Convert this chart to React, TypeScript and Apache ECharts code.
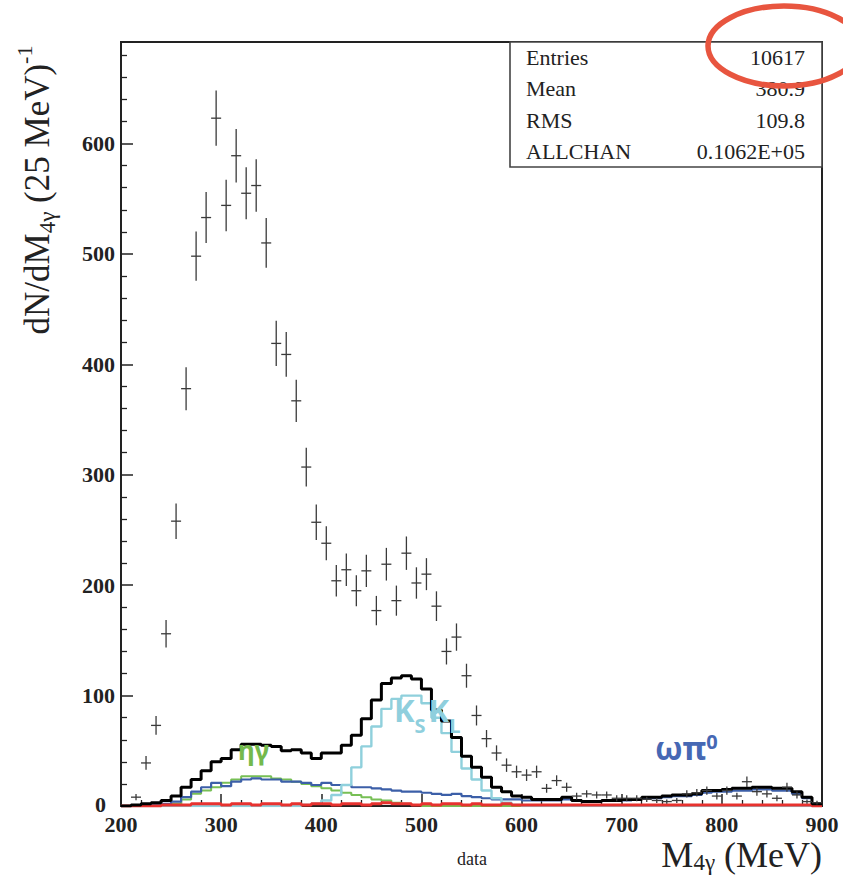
import React, { useEffect, useRef } from "react";
import * as echarts from "echarts";

// ---- binning (MeV) ----
const X_MIN = 200;
const X_MAX = 900;
const BIN_WIDTH = 10;
const DATA_FIRST_CENTER = 215;

// ---- data: counts per 10 MeV bin, bins 210-220 ... 890-900 ----
const dataCounts = [
  8, 39, 73, 156, 258, 378, 498, 533, 623, 544,
  589, 555, 562, 510, 419, 409, 367, 307, 257, 238,
  204, 214, 195, 213, 177, 219, 186, 229, 202, 210,
  181, 140, 153, 118, 82, 61, 48, 37, 31, 28,
  31, 16, 23, 17, 9, 11, 10, 10, 7, 7,
  7, 6, 5, 4, 5, 11, 12, 14, 9, 14,
  9, 22, 13, 11, 7, 17, 10, 4, 3,
];

// ---- MC histograms, bins 200-210 ... 890-900 ----
const mcTotal = [
  0, 1, 2, 3, 5, 9, 17, 24, 32, 40,
  43, 51, 56, 56, 55, 54, 50, 51, 48, 43,
  48, 48, 55, 64, 79, 96, 111, 116, 118, 115,
  106, 87, 77, 62, 45, 35, 26, 17, 13, 9,
  8, 6, 6, 6, 8, 5, 4, 4, 5, 5,
  6, 6, 8, 8, 9, 10, 10, 11, 14, 14,
  15, 16, 16, 17, 17, 16, 16, 13, 8, 2,
];
const mcKsKl = [
  0, 0, 0, 0, 0, 0, 0, 0, 0, 0,
  0, 0, 0, 0, 0, 0, 0, 0, 1, 2,
  5, 10, 19, 35, 54, 72, 88, 97, 100, 100,
  93, 80, 66, 49, 34, 24, 14, 7, 3, 1,
  0, 0, 0, 0, 0, 0, 0, 0, 0, 0,
  0, 0, 0, 0, 0, 0, 0, 0, 0, 0,
  0, 0, 0, 0, 0, 0, 0, 0, 0, 0,
];
const mcEtaGamma = [
  0, 0, 0, 0, 1, 2, 6, 11, 14, 17,
  21, 24, 27, 27, 27, 25, 24, 22, 20, 18,
  16, 14, 12, 10, 8, 6, 5, 3, 2, 1,
  0, 0, 0, 0, 0, 0, 0, 0, 0, 0,
  0, 0, 0, 0, 0, 0, 0, 0, 0, 0,
  0, 0, 0, 0, 0, 0, 0, 0, 0, 0,
  0, 0, 0, 0, 0, 0, 0, 0, 0, 0,
];
const mcOmegaPi0 = [
  0, 0, 1, 1, 2, 4, 8, 13, 17, 21,
  18, 22, 24, 25, 24, 24, 22, 22, 21, 19,
  21, 19, 19, 17, 17, 16, 15, 14, 13, 13,
  12, 11, 10, 11, 9, 8, 7, 6, 6, 6,
  5, 5, 5, 5, 6, 5, 4, 4, 5, 5,
  5, 6, 7, 7, 8, 9, 9, 10, 12, 13,
  13, 14, 14, 15, 15, 14, 14, 11, 7, 2,
];
const mcOther = [
  0, 0, 0, 0, 1, 1, 1, 2, 2, 2,
  1, 2, 2, 1, 2, 2, 1, 2, 1, 2,
  2, 1, 2, 2, 1, 2, 3, 2, 2, 1,
  2, 1, 2, 2, 1, 2, 1, 1, 2, 1,
  1, 1, 1, 1, 1, 1, 1, 1, 1, 1,
  1, 1, 1, 1, 1, 1, 1, 1, 1, 1,
  1, 1, 1, 1, 1, 1, 1, 1, 1, 0,
];

// ---- stats box ----
const statLabels = ["Entries", "Mean", "RMS", "ALLCHAN"];
const statValues = ["10617", "380.9", "109.8", "0.1062E+05"];

const SERIF = '"Liberation Serif", "Times New Roman", serif';
const SANS = '"Noto Sans", "Open Sans", sans-serif';

function histSeries(name: string, values: number[], color: string, width: number, z: number) {
  const pts: number[][] = values.map((v, i) => [X_MIN + i * BIN_WIDTH, v]);
  pts.push([X_MAX, values[values.length - 1]]);
  return {
    type: "line",
    name,
    step: "end",
    data: pts,
    symbol: "none",
    showSymbol: false,
    silent: true,
    lineStyle: { color, width },
    itemStyle: { color },
    z,
  };
}

export default function App() {
  const ref = useRef<HTMLDivElement>(null);

  useEffect(() => {
    if (!ref.current) return;
    const chart = echarts.init(ref.current, undefined, { renderer: "svg" });

    const statRowY = [57, 88, 120, 151];
    const statGraphics: any[] = [];
    statLabels.forEach((lab, i) => {
      statGraphics.push({
        type: "text",
        x: 526,
        y: statRowY[i],
        z: 101,
        style: { text: lab, font: `22px ${SERIF}`, fill: "#222", align: "left", verticalAlign: "middle" },
      });
      statGraphics.push({
        type: "text",
        x: 805,
        y: statRowY[i],
        z: 101,
        style: { text: statValues[i], font: `22px ${SERIF}`, fill: "#222", align: "right", verticalAlign: "middle" },
      });
    });

    const option: any = {
      animation: false,
      backgroundColor: "#fff",
      grid: {
        left: 121,
        right: 21,
        top: 42,
        bottom: 70,
        show: true,
        borderColor: "#222",
        borderWidth: 2,
        containLabel: false,
      },
      xAxis: {
        type: "value",
        min: X_MIN,
        max: X_MAX,
        interval: 100,
        axisLine: { show: true, lineStyle: { color: "#222", width: 2 } },
        axisTick: { show: true, inside: true, length: 12, lineStyle: { color: "#222", width: 1.5 } },
        minorTick: { show: true, splitNumber: 5, length: 6, lineStyle: { color: "#222", width: 1.3 } },
        splitLine: { show: false },
        axisLabel: {
          margin: 9,
          fontFamily: SERIF,
          fontWeight: "bold",
          fontSize: 22,
          lineHeight: 19,
          color: "#222",
        },
      },
      yAxis: {
        type: "value",
        min: 0,
        max: 692,
        interval: 100,
        axisLine: { show: true, lineStyle: { color: "#222", width: 2 } },
        axisTick: { show: true, inside: true, length: 12, lineStyle: { color: "#222", width: 1.5 } },
        minorTick: { show: true, splitNumber: 5, length: 6, lineStyle: { color: "#222", width: 1.3 } },
        splitLine: { show: false },
        axisLabel: {
          margin: 6,
          showMaxLabel: false,
          fontFamily: SERIF,
          fontWeight: "bold",
          fontSize: 22,
          lineHeight: 17,
          color: "#222",
          formatter: (v: number) => (v === 0 ? "{z|0}" : String(v)),
          rich: {
            z: {
              fontFamily: SERIF,
              fontWeight: "bold",
              fontSize: 22,
              lineHeight: 17,
              color: "#222",
              padding: [0, 9, 4, 0],
            },
          },
        },
      },
      series: [
        histSeries("ηγ", mcEtaGamma, "#77bf55", 2, 2),
        histSeries("ωπ0", mcOmegaPi0, "#3c5fa8", 2.2, 3),
        histSeries("KsKl", mcKsKl, "#8fd0dc", 2.4, 4),
        histSeries("other", mcOther, "#e8322f", 3, 5),
        histSeries("total", mcTotal, "#000000", 3, 6),
        {
          type: "custom",
          name: "data",
          data: dataCounts.map((v, i) => [DATA_FIRST_CENTER + i * BIN_WIDTH, v]),
          encode: { x: 0, y: 1 },
          z: 10,
          silent: true,
          renderItem: (params: any, api: any) => {
            const x = api.value(0);
            const v = api.value(1);
            const err = Math.sqrt(v);
            const top = api.coord([x, v + err]);
            const bot = api.coord([x, Math.max(0, v - err)]);
            const l = api.coord([x - BIN_WIDTH / 2, v]);
            const r = api.coord([x + BIN_WIDTH / 2, v]);
            const style = { stroke: "#3a3a3a", lineWidth: 1.3 };
            return {
              type: "group",
              children: [
                { type: "line", shape: { x1: top[0], y1: top[1], x2: bot[0], y2: bot[1] }, style },
                { type: "line", shape: { x1: l[0], y1: l[1], x2: r[0], y2: r[1] }, style },
              ],
            };
          },
        },
      ],
      graphic: [
        // stats box
        {
          type: "rect",
          z: 100,
          shape: { x: 510, y: 42, width: 312, height: 125 },
          style: { fill: "#fff", stroke: "#444", lineWidth: 1.6 },
        },
        ...statGraphics,
        // red highlight ellipse
        {
          type: "ellipse",
          z: 110,
          shape: { cx: 784, cy: 46, rx: 76, ry: 40 },
          style: { fill: "none", stroke: "#e8553f", lineWidth: 5.5 },
        },
        // y axis title
        {
          type: "text",
          x: 31,
          y: 190,
          rotation: Math.PI / 2,
          z: 50,
          style: {
            text: "{m|dN/dM}{s|4γ}{m| (25 MeV)}{p|-1}",
            align: "center",
            verticalAlign: "middle",
            rich: {
              m: { fontFamily: SERIF, fontSize: 35, lineHeight: 35, fill: "#222", verticalAlign: "top", padding: [6, 0, 0, 0] },
              s: { fontFamily: SERIF, fontSize: 23, lineHeight: 23, fill: "#222", verticalAlign: "top", padding: [22, 0, 0, 0] },
              p: { fontFamily: SERIF, fontSize: 22, lineHeight: 22, fill: "#222", verticalAlign: "top", padding: [0, 0, 0, 0] },
            },
          },
        },
        // x axis title
        {
          type: "text",
          x: 822,
          y: 837,
          z: 50,
          style: {
            text: "{m|M}{s|4γ}{m| (MeV)}",
            align: "right",
            verticalAlign: "top",
            rich: {
              m: { fontFamily: SERIF, fontSize: 36, lineHeight: 26, fill: "#222", verticalAlign: "top", padding: [0, 0, 0, 0] },
              s: { fontFamily: SERIF, fontSize: 23, lineHeight: 18, fill: "#222", verticalAlign: "top", padding: [14, 0, 0, 0] },
            },
          },
        },
        // "data" caption
        {
          type: "text",
          x: 472,
          y: 859,
          z: 50,
          style: { text: "data", font: `18px ${SERIF}`, fill: "#222", align: "center", verticalAlign: "middle" },
        },
        // component labels
        {
          type: "text",
          x: 238,
          y: 750,
          z: 50,
          style: { text: "ηγ", font: `bold 26px ${SANS}`, fill: "#74b94c", align: "left", verticalAlign: "middle" },
        },
        {
          type: "text",
          x: 394,
          y: 694,
          z: 50,
          style: {
            text: "{k|K}{s|S}{k|K}{s|L}",
            align: "left",
            verticalAlign: "top",
            rich: {
              k: { fontFamily: SANS, fontWeight: "bold", fontSize: 31, lineHeight: 31, fill: "#8fcfdd", verticalAlign: "top", padding: [0, 0, 0, 0] },
              s: { fontFamily: SANS, fontWeight: "bold", fontSize: 20, lineHeight: 20, fill: "#8fcfdd", verticalAlign: "top", padding: [21, 3, 0, 0] },
            },
          },
        },
        {
          type: "text",
          x: 655,
          y: 731,
          z: 50,
          style: {
            text: "{m|ωπ}{p|0}",
            align: "left",
            verticalAlign: "top",
            rich: {
              m: { fontFamily: SANS, fontWeight: "bold", fontSize: 32, lineHeight: 32, fill: "#4668b4", verticalAlign: "top", padding: [0, 0, 0, 0] },
              p: { fontFamily: SANS, fontWeight: "bold", fontSize: 20, lineHeight: 20, fill: "#4668b4", verticalAlign: "top", padding: [0, 0, 0, 0] },
            },
          },
        },
      ],
    };

    chart.setOption(option);
    return () => chart.dispose();
  }, []);

  return (
    <div
      ref={ref}
      style={{ position: "fixed", left: 0, top: 0, width: 843, height: 876, background: "#fff" }}
    />
  );
}
